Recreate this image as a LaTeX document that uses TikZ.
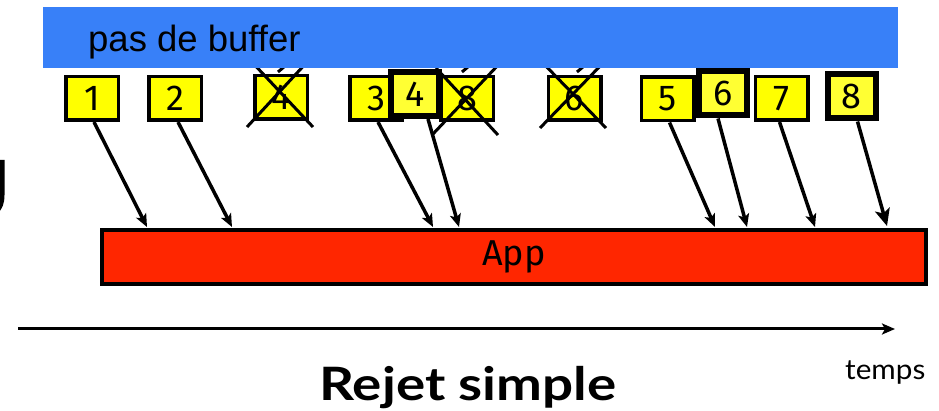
\documentclass[tikz,border=0pt]{standalone}
\usepackage{fontspec}
\setmainfont{Liberation Sans}
\newfontfamily\digitfont{Fira Sans}
\newfontfamily\titlefont{Lato}
\usetikzlibrary{arrows.meta,calc}
\definecolor{barblue}{RGB}{56,128,248}
\definecolor{appred}{RGB}{255,38,0}
\definecolor{pktyellow}{RGB}{255,255,0}
\definecolor{pktlight}{RGB}{255,255,51}
\begin{document}
\begin{tikzpicture}[x=1pt,y=-1pt,
  pkt/.style={draw=black, line width=3.5pt, fill=pktyellow, minimum width=52.5pt,
    minimum height=43.5pt, inner sep=0pt, font=\digitfont\fontsize{36}{36}\selectfont},
  pktbold/.style={pkt, line width=6pt, fill=pktlight, minimum width=48pt, minimum height=44pt},
  crossline/.style={line width=3pt, line cap=butt},
  flow/.style={line width=3.5pt, -{Stealth[length=13pt,width=11pt,inset=3pt]}},
  flowbig/.style={line width=3.5pt, -{Stealth[length=17pt,width=15pt,inset=4pt]}}]
\useasboundingbox (0,0) rectangle (939,411);

% partial glyph cut at the left edge
\draw[line width=5pt] (2,160) -- (2,195) .. controls (2,203) and (0,208) .. (-4,211);

% application bar
\node[draw=black, line width=3.5pt, fill=appred, minimum width=824pt, minimum height=54pt,
  inner sep=0pt, font=\digitfont\fontsize{36}{36}\selectfont] (app) at (514,257) {App};

% discarded packets
\node[pkt] (x4) at (281,97.5) {4};
\draw[crossline] (247,127) -- (309,60);
\draw[crossline] (250,60) -- (313,127);
\draw[crossline] (278,72) -- (292,60);

\node[pkt] (x6) at (574.5,98.5) {6};
\draw[crossline] (540,128) -- (606,60);
\draw[crossline] (540,60) -- (606,128);
\draw[crossline] (577,72) -- (591,60);

% delivered packets
\node[pkt] (b1) at (92,98.5) {1};
\node[pkt] (b2) at (175,98.5) {2};
\node[pkt] (b3) at (376,98.5) {3};
\node[pktbold] (b4) at (415,94) {4};
\node[pkt] (x8) at (467,98.5) {8};
\draw[crossline] (433,134) -- (501,62);
\draw[crossline] (436,68) -- (498,135);
\draw[crossline] (462,72) -- (476,60);
\node[pkt] (b5) at (667.5,99) {5};
\node[pktbold] (b6) at (723,93.5) {6};
\node[pkt] (b7) at (781.5,98.5) {7};
\node[pktbold] (b8) at (851.5,96.5) {8};

% arrival points on the application bar
\coordinate (t1) at (147,227);
\coordinate (t2) at (232,227);
\coordinate (t3) at (433,227);
\coordinate (t4) at (459,227);
\coordinate (t5) at (715,227);
\coordinate (t6) at (747,227);
\coordinate (t7) at (815,227);
\coordinate (t8) at (887,226);

\draw[flow] ([xshift=2pt]b1.south) -- (t1);
\draw[flow] ([xshift=3pt]b2.south) -- (t2);
\draw[flow] ([xshift=2pt]b3.south) -- (t3);
\draw[flow] ([xshift=13pt]b4.south) -- (t4);
\draw[flow] ([xshift=2pt]b5.south) -- (t5);
\draw[flow] ([xshift=-5pt]b6.south) -- (t6);
\draw[flow] ([xshift=-2pt]b7.south) -- (t7);
\draw[flowbig] ([xshift=6pt]b8.south) -- (t8);

% buffer bar
\fill[barblue] (43,7) rectangle (898,68);
\node[anchor=base west, inner sep=0pt, font=\fontsize{36.5}{36.5}\selectfont] (buf) at (88,52) {pas de buffer};

% time axis
\coordinate (ax0) at (18,329);
\coordinate (ax1) at (895,329);
\draw[line width=3pt, -{Stealth[length=13pt,width=11pt,inset=3pt]}] (ax0) -- (ax1);
\node[anchor=base west, inner sep=0pt, font=\titlefont\fontsize{28}{28}\selectfont] (temps) at (845,379) {\scalebox{1.06}[1]{temps}};

\node[anchor=base, inner sep=0pt, font=\titlefont\bfseries\fontsize{46}{46}\selectfont] (title) at (468,400) {\scalebox{1.19}[1]{Rejet simple}};
\end{tikzpicture}
\end{document}
